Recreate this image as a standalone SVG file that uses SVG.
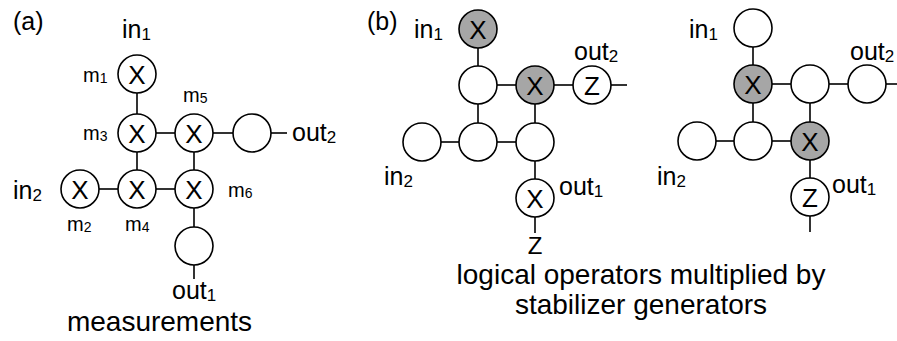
<svg xmlns="http://www.w3.org/2000/svg" width="897" height="341" viewBox="0 0 897 341">
<style>
.n{fill:#fff;stroke:#000;stroke-width:1.6}
.g{fill:#a6a6a6;stroke:#000;stroke-width:1.6}
.c line{stroke:#000;stroke-width:1.6}
text{font-family:"Liberation Sans",Arial,sans-serif;fill:#000}
.op{font-size:26px;text-anchor:middle}
.lb{font-size:25px}
.lb tspan.s{font-size:17px}
.ml{font-size:20px}
.ml tspan.s{font-size:14px}
.cap{font-size:28px;text-anchor:middle}
</style>
<rect width="897" height="341" fill="#fff"/>
<g class="c" id="connectors">
<line x1="137" y1="93" x2="137" y2="114"/>
<line x1="137" y1="152" x2="137" y2="170"/>
<line x1="194" y1="152" x2="194" y2="170"/>
<line x1="194" y1="208" x2="194" y2="227"/>
<line x1="194" y1="265" x2="194" y2="279"/>
<line x1="156" y1="133" x2="175" y2="133"/>
<line x1="213" y1="133" x2="233" y2="133"/>
<line x1="271" y1="133" x2="287" y2="133"/>
<line x1="99" y1="189" x2="118" y2="189"/>
<line x1="156" y1="189" x2="175" y2="189"/>
<line x1="478" y1="48" x2="478" y2="66"/>
<line x1="478" y1="104" x2="478" y2="123"/>
<line x1="535" y1="104" x2="535" y2="123"/>
<line x1="535" y1="161" x2="535" y2="179"/>
<line x1="535" y1="217" x2="535" y2="233"/>
<line x1="497" y1="85" x2="516" y2="85"/>
<line x1="554" y1="85" x2="573" y2="85"/>
<line x1="611" y1="85" x2="627" y2="85"/>
<line x1="441" y1="142" x2="459" y2="142"/>
<line x1="497" y1="142" x2="516" y2="142"/>
<line x1="753" y1="47" x2="753" y2="65"/>
<line x1="753" y1="103" x2="753" y2="122"/>
<line x1="810" y1="103" x2="810" y2="122"/>
<line x1="810" y1="160" x2="810" y2="178"/>
<line x1="810" y1="216" x2="810" y2="232"/>
<line x1="772" y1="84" x2="791" y2="84"/>
<line x1="829" y1="84" x2="848" y2="84"/>
<line x1="886" y1="84" x2="897" y2="84"/>
<line x1="716" y1="141" x2="734" y2="141"/>
<line x1="772" y1="141" x2="791" y2="141"/>
</g>
<g id="a-m1"><circle class="n" cx="137" cy="74" r="19"/><text class="op" x="137" y="83.5">X</text></g>
<g id="a-m3"><circle class="n" cx="137" cy="133" r="19"/><text class="op" x="137" y="142.5">X</text></g>
<g id="a-m5"><circle class="n" cx="194" cy="133" r="19"/><text class="op" x="194" y="142.5">X</text></g>
<g id="a-out2"><circle class="n" cx="252" cy="133" r="19"/></g>
<g id="a-m2"><circle class="n" cx="80" cy="189" r="19"/><text class="op" x="80" y="198.5">X</text></g>
<g id="a-m4"><circle class="n" cx="137" cy="189" r="19"/><text class="op" x="137" y="198.5">X</text></g>
<g id="a-m6"><circle class="n" cx="194" cy="189" r="19"/><text class="op" x="194" y="198.5">X</text></g>
<g id="a-out1"><circle class="n" cx="194" cy="246" r="19"/></g>
<g id="bl-in1"><circle class="g" cx="478" cy="29" r="19"/><text class="op" x="478" y="38.5">X</text></g>
<g id="bl-r1c1"><circle class="n" cx="478" cy="85" r="19"/></g>
<g id="bl-r1c2"><circle class="g" cx="535" cy="85" r="19"/><text class="op" x="535" y="94.5">X</text></g>
<g id="bl-out2"><circle class="n" cx="592" cy="85" r="19"/><text class="op" x="592" y="94.5">Z</text></g>
<g id="bl-in2"><circle class="n" cx="422" cy="142" r="19"/></g>
<g id="bl-r2c1"><circle class="n" cx="478" cy="142" r="19"/></g>
<g id="bl-r2c2"><circle class="n" cx="535" cy="142" r="19"/></g>
<g id="bl-out1"><circle class="n" cx="535" cy="198" r="19"/><text class="op" x="535" y="207.5">X</text></g>
<g id="br-in1"><circle class="n" cx="753" cy="28" r="19"/></g>
<g id="br-r1c1"><circle class="g" cx="753" cy="84" r="19"/><text class="op" x="753" y="93.5">X</text></g>
<g id="br-r1c2"><circle class="n" cx="810" cy="84" r="19"/></g>
<g id="br-out2"><circle class="n" cx="867" cy="84" r="19"/></g>
<g id="br-in2"><circle class="n" cx="697" cy="141" r="19"/></g>
<g id="br-r2c1"><circle class="n" cx="753" cy="141" r="19"/></g>
<g id="br-r2c2"><circle class="g" cx="810" cy="141" r="19"/><text class="op" x="810" y="150.5">X</text></g>
<g id="br-out1"><circle class="n" cx="810" cy="197" r="19"/><text class="op" x="810" y="206.5">Z</text></g>
<g id="labels">
<text class="lb" x="13" y="30">(a)</text>
<text class="lb" x="122" y="38">in<tspan class="s" dy="2">1</tspan></text>
<text class="ml" x="83" y="82">m<tspan class="s" dy="1">1</tspan></text>
<text class="ml" x="183" y="102">m<tspan class="s" dy="1">5</tspan></text>
<text class="ml" x="83" y="140">m<tspan class="s" dy="1">3</tspan></text>
<text class="lb" x="292" y="141">out<tspan class="s" dy="2">2</tspan></text>
<text class="lb" x="13" y="199">in<tspan class="s" dy="2">2</tspan></text>
<text class="ml" x="228" y="197">m<tspan class="s" dy="1">6</tspan></text>
<text class="ml" x="67" y="231">m<tspan class="s" dy="1">2</tspan></text>
<text class="ml" x="125" y="231">m<tspan class="s" dy="1">4</tspan></text>
<text class="lb" x="172" y="299">out<tspan class="s" dy="2">1</tspan></text>
<text class="cap" x="159.5" y="331">measurements</text>
<text class="lb" x="367" y="30">(b)</text>
<text class="lb" x="414" y="38">in<tspan class="s" dy="2">1</tspan></text>
<text class="lb" x="574" y="60">out<tspan class="s" dy="2">2</tspan></text>
<text class="lb" x="384" y="185">in<tspan class="s" dy="2">2</tspan></text>
<text class="lb" x="559" y="195">out<tspan class="s" dy="2">1</tspan></text>
<text class="op" x="535" y="254" style="font-size:24px">Z</text>
<text class="lb" x="689" y="38">in<tspan class="s" dy="2">1</tspan></text>
<text class="lb" x="850" y="60">out<tspan class="s" dy="2">2</tspan></text>
<text class="lb" x="657" y="185">in<tspan class="s" dy="2">2</tspan></text>
<text class="lb" x="832" y="193">out<tspan class="s" dy="2">1</tspan></text>
<text class="cap" x="641" y="284">logical operators multiplied by</text>
<text class="cap" x="641" y="314">stabilizer generators</text>
</g>
</svg>
